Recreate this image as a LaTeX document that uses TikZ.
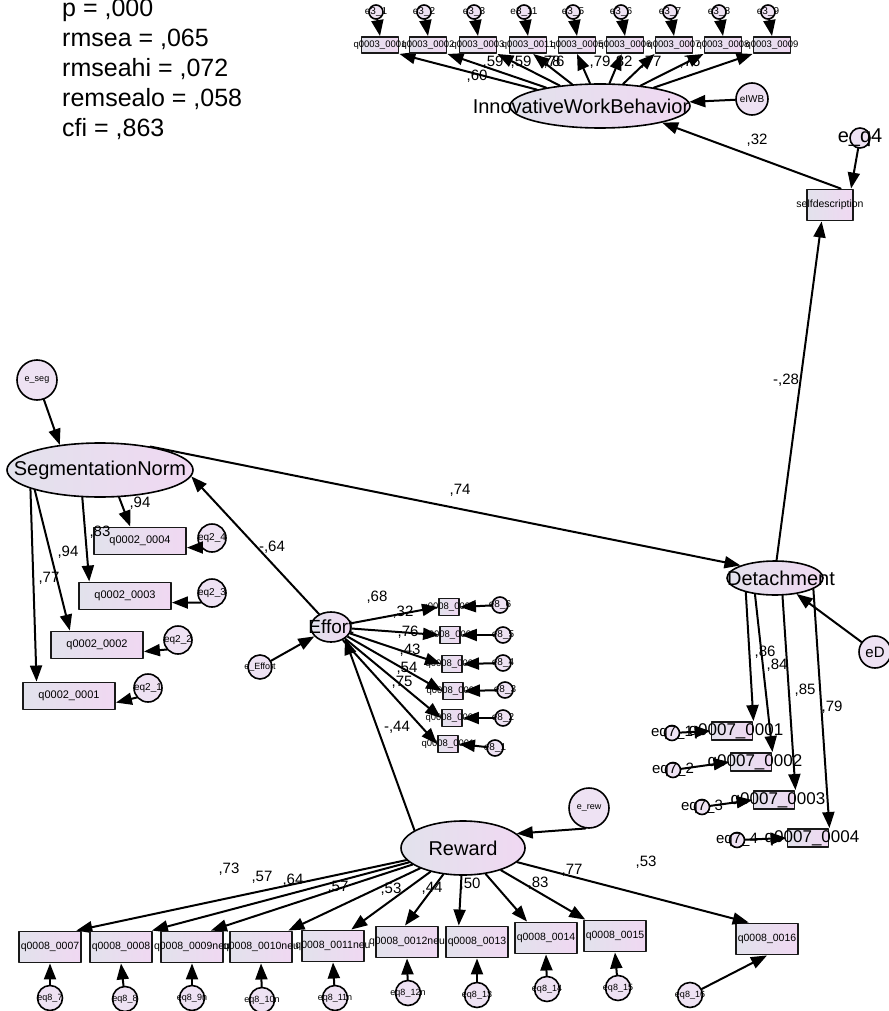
\documentclass[tikz,border=0pt]{standalone}
\usepackage{fontspec}
\setmainfont{Liberation Sans}
\usetikzlibrary{arrows.meta,shapes.geometric,positioning,backgrounds}
\definecolor{amosL}{RGB}{226,226,236}
\definecolor{amosR}{RGB}{240,216,242}
\definecolor{amosC}{RGB}{238,226,243}
\newcommand{\fs}[1]{\fontsize{#1}{#1}\selectfont}
\newcommand{\zw}[1]{\makebox[0pt]{#1}}

\begin{document}
\begin{tikzpicture}[x=1pt, y=-1pt, line cap=round, line join=round,
  latent/.style={ellipse, draw=black, line width=1.6pt, left color=amosL, right color=amosR, inner sep=0pt, font=\fs{20}},
  obs/.style={rectangle, draw=black!90, line width=1.9pt, left color=amosL, right color=amosR, inner sep=0pt},
  err/.style={circle, draw=black, line width=1.6pt, fill=amosC, inner sep=0pt},
  path/.style={line width=2pt, -{Triangle[length=16pt,width=12pt]}},
  wt/.style={inner sep=0pt, font=\fs{15}},
  fitline/.style={anchor=base west, inner sep=0pt, font=\fs{25}}]
\useasboundingbox (0,0) rectangle (888,1011);

% fit statistics
\node[fitline] (fitp) at (62,17) {p = ,000};
\node[fitline] (fitrmsea) at (62,47) {rmsea = ,065};
\node[fitline] (fitrmseahi) at (62,77) {rmseahi = ,072};
\node[fitline] (fitrmsealo) at (62,107) {remsealo = ,058};
\node[fitline] (fitcfi) at (62,137) {cfi = ,863};

% innovative work behavior
\node[latent, minimum width=180pt, minimum height=44pt] (iwb) at (600,106) {\zw{InnovativeWorkBehavior\kern38pt}};
\node[err, minimum size=32pt] (eiwb) at (752,99) {\zw{\fs{10}eIWB}};
\draw[path] (eiwb) -- (iwb);
\foreach \i/\x/\q/\e/\a in {1/380/0001/e3\_1/south east, 2/428/0002/e3\_2/south east,
    3/478/0003/e3\_3/south east, 4/528/0011/e3\_11/-60, 5/577/0005/e3\_5/south,
    6/625/0006/e3\_6/-110, 7/674/0007/e3\_7/south west, 8/723/0008/e3\_8/south west,
    9/772/0009/e3\_9/south west} {
  \node[obs, minimum width=37pt, minimum height=16pt] (iw\i) at (\x,45) {\zw{\fs{9.5}q0003\_\q}};
  \node[err, minimum size=14pt] (eiw\i) at (\x-4,12) {\zw{\fs{10}\e}};
  \draw[path] (eiw\i) -- (iw\i.north);
  \draw[path] (iwb) -- (iw\i.\a);
}
\foreach \t/\x/\y [count=\n] in {{,60}/477/76, {,59}/493/62, {,59}/521/62, {,78}/550/62,
    {,76}/554/62, {,79}/600/62, {,82}/622/62, {,77}/651/62, {,76}/690/62}
  \node[wt] (liw\n) at (\x,\y) {\t};

% self description
\node[obs, minimum width=46pt, minimum height=31pt] (selfdesc) at (830,205) {\zw{\fs{10.5}selfdescription}};
\node[err, minimum size=20pt] (eq4) at (860,138) {\zw{\fs{20}e\_q4}};
\draw[path] (eq4) -- (selfdesc.38);
\draw[path] (selfdesc.57) -- (iwb.-15);
\node[wt] (l32) at (757,140) {,32};

% detachment
\node[latent, minimum width=96pt, minimum height=34pt] (det) at (775,578) {\zw{\kern12pt Detachment}};
\draw[path] (det.85) -- (selfdesc.-117);
\node[wt] (l28) at (786,380) {-,28};
\node[err, minimum size=32pt] (ed) at (875,652) {\zw{\fs{15}eD}};
\draw[path] (ed) -- (det);
\foreach \i/\x/\y/\a/\ex/\ey in {1/732/731/-154/672/733, 2/751/762/-141/673/770,
    3/774/800/-67/702/807, 4/808/838/-16/737/840} {
  \node[obs, minimum width=41pt, minimum height=18pt] (dq\i) at (\x,\y) {\zw{\fs{17}\kern8pt q0007\_000\i}};
  \node[err, minimum size=15pt] (edq\i) at (\ex,\ey) {\zw{\fs{15}eq7\_\i}};
  \draw[path] (edq\i) -- (dq\i.west);
  \draw[path] (det.\a) -- (dq\i.north east);
}
\foreach \t/\x/\y [count=\n] in {{,86}/765/652, {,84}/777/665, {,85}/805/690, {,79}/832/707}
  \node[wt] (ldq\n) at (\x,\y) {\t};

% segmentation norm
\node[latent, minimum width=186pt, minimum height=54pt] (seg) at (100,470) {\zw{SegmentationNorm}};
\node[err, minimum size=40pt] (eseg) at (37,380) {\zw{\fs{9}e\_seg}};
\draw[path] (eseg) -- (seg.148);
\foreach \i/\x/\y/\a/\b/\ex/\ey in {4/140/541/-55/124/212/538, 3/125/596/-123/158/212/593,
    2/97/645/-163/152/178/640, 1/69/696/-165/156/148/688} {
  \node[obs, minimum width=92pt, minimum height=27pt] (sq\i) at (\x,\y) {\zw{\fs{11}q0002\_000\i}};
  \node[err, minimum size=28pt] (esq\i) at (\ex,\ey) {\zw{\fs{10}eq2\_\i}};
  \draw[path] (esq\i.-140) -- (sq\i.-8);
  \draw[path] (seg.\a) -- (sq\i.\b);
}
\foreach \t/\x/\y [count=\n] in {{,94}/140/503, {,83}/100/532, {,94}/68/552, {,77}/49/578}
  \node[wt] (lsq\n) at (\x,\y) {\t};
\draw[path] (seg.25) -- (det.160);
\node[wt] (l74) at (460,490) {,74};

% effort
\node[latent, minimum width=40pt, minimum height=30pt, font=\fs{19}] (effort) at (331,627) {\zw{Effort}};
\node[err, minimum size=24pt] (eeffort) at (260,667) {\zw{\fs{9}e\_Effort}};
\draw[path] (eeffort) -- (effort);
\draw[path] (effort) -- (seg.-4);
\node[wt] (l64) at (272,547) {-,64};
\foreach \i/\x/\y/\ex/\ey in {6/449/607/500/605, 5/450/635/503/635, 4/452/664/503/663,
    3/453/691/505/690, 2/452/718/503/718, 1/448/744/495/748} {
  \node[obs, minimum width=20pt, minimum height=17pt] (fq\i) at (\x,\y) {\zw{\fs{9.5}q0008\_000\i}};
  \node[err, minimum size=16pt] (efq\i) at (\ex,\ey) {\zw{\fs{10}e8\_\i}};
  \draw[path] (efq\i) -- (fq\i.east);
  \begin{scope}[on background layer]
    \draw[path] (effort) -- (fq\i.west);
  \end{scope}
}
\foreach \t/\x/\y [count=\n] in {{,68}/377/597, {,32}/403/612, {,76}/408/632, {,43}/410/650,
    {,54}/407/668, {,75}/402/682}
  \node[wt] (lfq\n) at (\x,\y) {\t};

% reward
\node[latent, minimum width=124pt, minimum height=54pt] (reward) at (463,848) {\zw{Reward}};
\node[err, minimum size=40pt] (erew) at (589,808) {\zw{\fs{9}e\_rew}};
\draw[path] (erew.-100) -- (reward.15);
\draw[path] (reward.160) -- (effort.-40);
\node[wt] (l44n) at (397,727) {-,44};
\foreach \i/\x/\y/\q/\e/\a/\ex/\ey in {7/50/947/0007/7/32/50/998, 8/121/947/0008/8/28/125/999,
    9/192/947/0009neu/9n/41/192/998, 10/261/947/0010neu/10n/31/262/1000,
    11/333/946/0011neu/11n/42/335/998, 12/407/942/0012neu/12n/97/408/993,
    13/477/942/0013/13/138/477/995, 14/546/938/0014/14/139/547/989,
    15/615/936/0015/15/151/618/988, 16/767/939/0016/16/138/690/995} {
  \node[obs, minimum width=62pt, minimum height=31pt] (rq\i) at (\x,\y) {\zw{\fs{10.5}q0008\_\q}};
  \node[err, minimum size=25pt] (erq\i) at (\ex,\ey) {\zw{\fs{9}eq8\_\e}};
  \draw[path] (erq\i) -- (rq\i.south);
  \draw[path] (reward) -- (rq\i.\a);
}
\foreach \t/\x/\y [count=\n] in {{,73}/229/869, {,57}/262/877, {,64}/293/880, {,57}/338/887,
    {,53}/391/889, {,44}/432/888, {,50}/470/884, {,83}/538/883, {,77}/572/870, {,53}/646/862}
  \node[wt] (lrq\n) at (\x,\y) {\t};
\end{tikzpicture}
\end{document}
